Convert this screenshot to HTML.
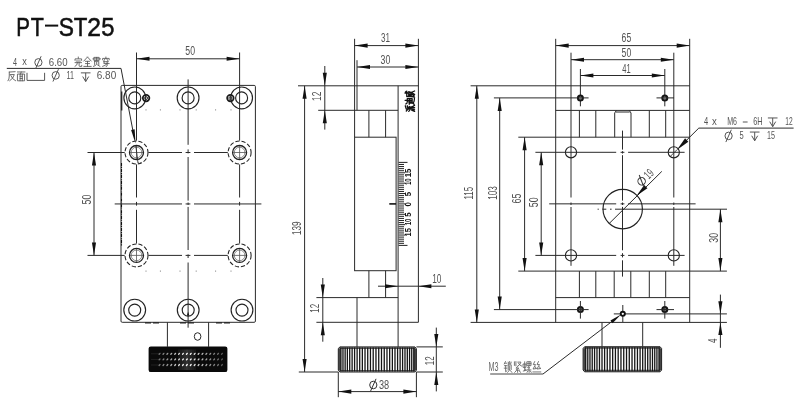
<!DOCTYPE html>
<html lang="en">
<head>
<meta charset="utf-8">
<title>PT-ST25</title>
<style>
html,body{margin:0;padding:0;background:#fff;}
body{width:800px;height:418px;overflow:hidden;font-family:"Liberation Sans",sans-serif;}
svg{display:block;filter:grayscale(1);}
</style>
</head>
<body>
<svg width="800" height="418" viewBox="0 0 800 418" font-family="'Liberation Sans', sans-serif" shape-rendering="geometricPrecision">
<rect x="0" y="0" width="800" height="418" fill="#ffffff"/>
<g font-family="'Liberation Sans', sans-serif">
<text x="16.30" y="35.56" font-size="25.6" fill="#111" font-weight="normal" stroke="#111" stroke-width="0.55" textLength="13.70" lengthAdjust="spacingAndGlyphs">P</text>
<text x="30.80" y="35.56" font-size="25.6" fill="#111" font-weight="normal" stroke="#111" stroke-width="0.55" textLength="13.10" lengthAdjust="spacingAndGlyphs">T</text>
<text x="58.70" y="35.56" font-size="25.6" fill="#111" font-weight="normal" stroke="#111" stroke-width="0.55" textLength="15.20" lengthAdjust="spacingAndGlyphs">S</text>
<text x="73.70" y="35.56" font-size="25.6" fill="#111" font-weight="normal" stroke="#111" stroke-width="0.55" textLength="13.60" lengthAdjust="spacingAndGlyphs">T</text>
<text x="87.30" y="35.56" font-size="25.6" fill="#111" font-weight="normal" stroke="#111" stroke-width="0.55" textLength="13.70" lengthAdjust="spacingAndGlyphs">2</text>
<text x="101.20" y="35.56" font-size="25.6" fill="#111" font-weight="normal" stroke="#111" stroke-width="0.55" textLength="13.20" lengthAdjust="spacingAndGlyphs">5</text>
<line x1="45.00" y1="25.60" x2="58.20" y2="25.60" stroke="#111" stroke-width="2.0"/>
<rect x="121.00" y="85.40" width="134.40" height="236.90" rx="1.2" fill="none" stroke="#2a2a2a" stroke-width="1.0"/>
<line x1="121.70" y1="91.50" x2="121.70" y2="110.50" stroke="#222" stroke-width="1.3"/>
<line x1="121.50" y1="163.00" x2="121.50" y2="246.00" stroke="#111" stroke-width="1.1" stroke-dasharray="3.2 0.9 0.9 0.9"/>
<line x1="136.50" y1="52.50" x2="136.50" y2="140.60" stroke="#2a2a2a" stroke-width="1.0"/>
<line x1="239.60" y1="52.50" x2="239.60" y2="140.60" stroke="#2a2a2a" stroke-width="1.0"/>
<line x1="136.50" y1="58.80" x2="239.60" y2="58.80" stroke="#2a2a2a" stroke-width="1.0"/>
<polygon points="136.50,58.80 149.50,56.75 149.50,60.85" fill="#111"/>
<polygon points="239.60,58.80 226.60,60.85 226.60,56.75" fill="#111"/>
<text x="185.30" y="55.38" font-size="12.1" fill="#525252" font-weight="normal" textLength="9.70" lengthAdjust="spacingAndGlyphs">50</text>
<line x1="188.10" y1="79.40" x2="188.10" y2="144.80" stroke="#2a2a2a" stroke-width="1.0"/>
<line x1="188.10" y1="149.40" x2="188.10" y2="153.40" stroke="#2a2a2a" stroke-width="1.0"/>
<line x1="188.10" y1="157.00" x2="188.10" y2="200.60" stroke="#2a2a2a" stroke-width="1.0"/>
<line x1="188.10" y1="202.50" x2="188.10" y2="205.00" stroke="#2a2a2a" stroke-width="1.0"/>
<line x1="188.10" y1="206.90" x2="188.10" y2="250.00" stroke="#2a2a2a" stroke-width="1.0"/>
<line x1="188.10" y1="254.40" x2="188.10" y2="258.00" stroke="#2a2a2a" stroke-width="1.0"/>
<line x1="188.10" y1="262.50" x2="188.10" y2="327.70" stroke="#2a2a2a" stroke-width="1.0"/>
<line x1="136.50" y1="164.40" x2="136.50" y2="197.50" stroke="#2a2a2a" stroke-width="1.0"/>
<line x1="136.50" y1="201.90" x2="136.50" y2="205.60" stroke="#2a2a2a" stroke-width="1.0"/>
<line x1="136.50" y1="209.80" x2="136.50" y2="243.50" stroke="#2a2a2a" stroke-width="1.0"/>
<line x1="239.60" y1="164.40" x2="239.60" y2="197.50" stroke="#2a2a2a" stroke-width="1.0"/>
<line x1="239.60" y1="201.90" x2="239.60" y2="205.60" stroke="#2a2a2a" stroke-width="1.0"/>
<line x1="239.60" y1="209.80" x2="239.60" y2="243.50" stroke="#2a2a2a" stroke-width="1.0"/>
<line x1="87.50" y1="152.50" x2="124.70" y2="152.50" stroke="#2a2a2a" stroke-width="1.0"/>
<line x1="148.40" y1="152.50" x2="182.00" y2="152.50" stroke="#2a2a2a" stroke-width="1.0"/>
<line x1="185.60" y1="152.50" x2="190.40" y2="152.50" stroke="#2a2a2a" stroke-width="1.0"/>
<line x1="194.00" y1="152.50" x2="227.80" y2="152.50" stroke="#2a2a2a" stroke-width="1.0"/>
<line x1="87.50" y1="255.40" x2="124.70" y2="255.40" stroke="#2a2a2a" stroke-width="1.0"/>
<line x1="148.40" y1="255.40" x2="182.00" y2="255.40" stroke="#2a2a2a" stroke-width="1.0"/>
<line x1="185.60" y1="255.40" x2="190.40" y2="255.40" stroke="#2a2a2a" stroke-width="1.0"/>
<line x1="194.00" y1="255.40" x2="227.80" y2="255.40" stroke="#2a2a2a" stroke-width="1.0"/>
<line x1="114.70" y1="203.95" x2="182.00" y2="203.95" stroke="#2a2a2a" stroke-width="1.0"/>
<line x1="185.60" y1="203.95" x2="190.40" y2="203.95" stroke="#2a2a2a" stroke-width="1.0"/>
<line x1="194.00" y1="203.95" x2="261.40" y2="203.95" stroke="#2a2a2a" stroke-width="1.0"/>
<line x1="94.00" y1="152.50" x2="94.00" y2="255.40" stroke="#2a2a2a" stroke-width="1.0"/>
<polygon points="94.00,152.50 96.05,165.50 91.95,165.50" fill="#111"/>
<polygon points="94.00,255.40 91.95,242.40 96.05,242.40" fill="#111"/>
<text transform="translate(88.20,199.60) rotate(-90)" x="-4.90" y="3.18" font-size="12.1" fill="#525252" font-weight="normal" textLength="9.80" lengthAdjust="spacingAndGlyphs">50</text>
<circle cx="134.80" cy="97.90" r="10.90" fill="none" stroke="#222" stroke-width="1.15"/>
<circle cx="134.80" cy="97.90" r="6.00" fill="none" stroke="#222" stroke-width="1.15"/>
<circle cx="188.10" cy="97.90" r="10.90" fill="none" stroke="#222" stroke-width="1.15"/>
<circle cx="188.10" cy="97.90" r="6.00" fill="none" stroke="#222" stroke-width="1.15"/>
<circle cx="241.60" cy="97.90" r="10.90" fill="none" stroke="#222" stroke-width="1.15"/>
<circle cx="241.60" cy="97.90" r="6.00" fill="none" stroke="#222" stroke-width="1.15"/>
<circle cx="134.70" cy="310.10" r="10.90" fill="none" stroke="#222" stroke-width="1.15"/>
<circle cx="134.70" cy="310.10" r="6.00" fill="none" stroke="#222" stroke-width="1.15"/>
<circle cx="188.20" cy="310.10" r="10.90" fill="none" stroke="#222" stroke-width="1.15"/>
<circle cx="188.20" cy="310.10" r="6.00" fill="none" stroke="#222" stroke-width="1.15"/>
<circle cx="242.00" cy="310.10" r="10.90" fill="none" stroke="#222" stroke-width="1.15"/>
<circle cx="242.00" cy="310.10" r="6.00" fill="none" stroke="#222" stroke-width="1.15"/>
<polygon points="188.1,311.8 186.9,315.6 189.3,315.6" fill="#111"/>
<circle cx="146.10" cy="98.10" r="3.30" fill="none" stroke="#1a1a1a" stroke-width="1.7"/>
<circle cx="146.10" cy="98.10" r="1.50" fill="none" stroke="#333" stroke-width="1.0"/>
<circle cx="230.40" cy="98.10" r="3.30" fill="none" stroke="#1a1a1a" stroke-width="1.7"/>
<circle cx="230.40" cy="98.10" r="1.50" fill="none" stroke="#333" stroke-width="1.0"/>
<circle cx="136.50" cy="152.50" r="11.50" fill="none" stroke="#222" stroke-width="1.05" stroke-dasharray="4.2 2.0"/>
<circle cx="136.50" cy="152.50" r="7.00" fill="none" stroke="#222" stroke-width="1.3"/>
<circle cx="136.50" cy="152.50" r="5.30" fill="none" stroke="#444" stroke-width="0.6"/>
<line x1="130.00" y1="152.50" x2="143.00" y2="152.50" stroke="#555" stroke-width="0.8"/>
<line x1="136.50" y1="146.00" x2="136.50" y2="159.00" stroke="#555" stroke-width="0.8"/>
<circle cx="136.50" cy="255.40" r="11.50" fill="none" stroke="#222" stroke-width="1.05" stroke-dasharray="4.2 2.0"/>
<circle cx="136.50" cy="255.40" r="7.00" fill="none" stroke="#222" stroke-width="1.3"/>
<circle cx="136.50" cy="255.40" r="5.30" fill="none" stroke="#444" stroke-width="0.6"/>
<line x1="130.00" y1="255.40" x2="143.00" y2="255.40" stroke="#555" stroke-width="0.8"/>
<line x1="136.50" y1="248.90" x2="136.50" y2="261.90" stroke="#555" stroke-width="0.8"/>
<circle cx="239.60" cy="152.50" r="11.50" fill="none" stroke="#222" stroke-width="1.05" stroke-dasharray="4.2 2.0"/>
<circle cx="239.60" cy="152.50" r="7.00" fill="none" stroke="#222" stroke-width="1.3"/>
<circle cx="239.60" cy="152.50" r="5.30" fill="none" stroke="#444" stroke-width="0.6"/>
<line x1="233.10" y1="152.50" x2="246.10" y2="152.50" stroke="#555" stroke-width="0.8"/>
<line x1="239.60" y1="146.00" x2="239.60" y2="159.00" stroke="#555" stroke-width="0.8"/>
<circle cx="239.60" cy="255.40" r="11.50" fill="none" stroke="#222" stroke-width="1.05" stroke-dasharray="4.2 2.0"/>
<circle cx="239.60" cy="255.40" r="7.00" fill="none" stroke="#222" stroke-width="1.3"/>
<circle cx="239.60" cy="255.40" r="5.30" fill="none" stroke="#444" stroke-width="0.6"/>
<line x1="233.10" y1="255.40" x2="246.10" y2="255.40" stroke="#555" stroke-width="0.8"/>
<line x1="239.60" y1="248.90" x2="239.60" y2="261.90" stroke="#555" stroke-width="0.8"/>
<rect x="145.50" y="109.40" width="1.00" height="1.00" rx="0" fill="#777" stroke="none" stroke-width="0"/>
<rect x="159.90" y="109.40" width="1.00" height="1.00" rx="0" fill="#777" stroke="none" stroke-width="0"/>
<rect x="179.50" y="109.40" width="1.00" height="1.00" rx="0" fill="#777" stroke="none" stroke-width="0"/>
<rect x="195.70" y="109.40" width="1.00" height="1.00" rx="0" fill="#777" stroke="none" stroke-width="0"/>
<rect x="215.10" y="109.40" width="1.00" height="1.00" rx="0" fill="#777" stroke="none" stroke-width="0"/>
<rect x="230.50" y="109.40" width="1.00" height="1.00" rx="0" fill="#777" stroke="none" stroke-width="0"/>
<rect x="145.50" y="270.60" width="1.00" height="1.00" rx="0" fill="#777" stroke="none" stroke-width="0"/>
<rect x="159.90" y="270.60" width="1.00" height="1.00" rx="0" fill="#777" stroke="none" stroke-width="0"/>
<rect x="179.50" y="270.60" width="1.00" height="1.00" rx="0" fill="#777" stroke="none" stroke-width="0"/>
<rect x="195.70" y="270.60" width="1.00" height="1.00" rx="0" fill="#777" stroke="none" stroke-width="0"/>
<rect x="215.10" y="270.60" width="1.00" height="1.00" rx="0" fill="#777" stroke="none" stroke-width="0"/>
<rect x="230.50" y="270.60" width="1.00" height="1.00" rx="0" fill="#777" stroke="none" stroke-width="0"/>
<path d="M6.8,68.4 L121.0,68.4 L132.9,130.5" fill="none" stroke="#2a2a2a" stroke-width="1.0" />
<polygon points="135.50,143.40 131.13,129.98 134.67,129.31" fill="#111"/>
<path d="M135.8,145.5 L138.0,163.0 Q140.2,164.2 141.2,162.6" fill="none" stroke="#2a2a2a" stroke-width="0.9" />
<line x1="167.40" y1="322.30" x2="167.40" y2="346.80" stroke="#2a2a2a" stroke-width="1.0"/>
<line x1="208.60" y1="322.30" x2="208.60" y2="346.80" stroke="#2a2a2a" stroke-width="1.0"/>
<ellipse cx="197.6" cy="336.5" rx="3.3" ry="3.8" fill="none" stroke="#2a2a2a" stroke-width="1"/>
<line x1="145.00" y1="322.90" x2="160.00" y2="322.90" stroke="#222" stroke-width="1.2" stroke-dasharray="6 2"/>
<line x1="180.00" y1="322.90" x2="196.00" y2="322.90" stroke="#222" stroke-width="1.2" stroke-dasharray="6 2"/>
<line x1="216.00" y1="322.90" x2="231.00" y2="322.90" stroke="#222" stroke-width="1.2" stroke-dasharray="6 2"/>
<rect x="148.60" y="346.60" width="78.80" height="25.50" rx="2.2" fill="#0a0a0a" stroke="none" stroke-width="0"/>
<line x1="179.00" y1="349.50" x2="179.00" y2="370.00" stroke="rgba(255,255,255,0.14)" stroke-width="0.8"/>
<line x1="181.00" y1="349.50" x2="181.00" y2="370.00" stroke="rgba(255,255,255,0.21)" stroke-width="0.8"/>
<line x1="183.00" y1="349.50" x2="183.00" y2="370.00" stroke="rgba(255,255,255,0.28)" stroke-width="0.8"/>
<line x1="185.00" y1="349.50" x2="185.00" y2="370.00" stroke="rgba(255,255,255,0.35)" stroke-width="0.8"/>
<line x1="187.00" y1="349.50" x2="187.00" y2="370.00" stroke="rgba(255,255,255,0.42)" stroke-width="0.8"/>
<line x1="189.00" y1="349.50" x2="189.00" y2="370.00" stroke="rgba(255,255,255,0.35)" stroke-width="0.8"/>
<line x1="191.00" y1="349.50" x2="191.00" y2="370.00" stroke="rgba(255,255,255,0.28)" stroke-width="0.8"/>
<line x1="193.00" y1="349.50" x2="193.00" y2="370.00" stroke="rgba(255,255,255,0.21)" stroke-width="0.8"/>
<line x1="195.00" y1="349.50" x2="195.00" y2="370.00" stroke="rgba(255,255,255,0.14)" stroke-width="0.8"/>
<path d="M159.15,354.25 L159.95,353.35" stroke="rgba(255,255,255,0.44)" stroke-width="1.35" stroke-linecap="round"/>
<path d="M163.05,354.25 L163.85,353.35" stroke="rgba(255,255,255,0.51)" stroke-width="1.35" stroke-linecap="round"/>
<path d="M166.95,354.25 L167.75,353.35" stroke="rgba(255,255,255,0.59)" stroke-width="1.35" stroke-linecap="round"/>
<path d="M170.85,354.25 L171.65,353.35" stroke="rgba(255,255,255,0.67)" stroke-width="1.35" stroke-linecap="round"/>
<path d="M174.75,354.25 L175.55,353.35" stroke="rgba(255,255,255,0.75)" stroke-width="1.35" stroke-linecap="round"/>
<path d="M178.65,354.25 L179.45,353.35" stroke="rgba(255,255,255,0.82)" stroke-width="1.35" stroke-linecap="round"/>
<path d="M182.55,354.25 L183.35,353.35" stroke="rgba(255,255,255,0.90)" stroke-width="1.35" stroke-linecap="round"/>
<path d="M186.45,354.25 L187.25,353.35" stroke="rgba(255,255,255,0.98)" stroke-width="1.35" stroke-linecap="round"/>
<path d="M190.35,354.25 L191.15,353.35" stroke="rgba(255,255,255,0.95)" stroke-width="1.35" stroke-linecap="round"/>
<path d="M194.25,354.25 L195.05,353.35" stroke="rgba(255,255,255,0.87)" stroke-width="1.35" stroke-linecap="round"/>
<path d="M198.15,354.25 L198.95,353.35" stroke="rgba(255,255,255,0.79)" stroke-width="1.35" stroke-linecap="round"/>
<path d="M202.05,354.25 L202.85,353.35" stroke="rgba(255,255,255,0.72)" stroke-width="1.35" stroke-linecap="round"/>
<path d="M205.95,354.25 L206.75,353.35" stroke="rgba(255,255,255,0.64)" stroke-width="1.35" stroke-linecap="round"/>
<path d="M209.85,354.25 L210.65,353.35" stroke="rgba(255,255,255,0.56)" stroke-width="1.35" stroke-linecap="round"/>
<path d="M213.75,354.25 L214.55,353.35" stroke="rgba(255,255,255,0.48)" stroke-width="1.35" stroke-linecap="round"/>
<path d="M217.65,354.25 L218.45,353.35" stroke="rgba(255,255,255,0.41)" stroke-width="1.35" stroke-linecap="round"/>
<path d="M221.55,354.25 L222.35,353.35" stroke="rgba(255,255,255,0.33)" stroke-width="1.35" stroke-linecap="round"/>
<line x1="151.50" y1="353.80" x2="158.50" y2="353.80" stroke="rgba(255,255,255,0.25)" stroke-width="0.8" stroke-dasharray="1 1"/>
<path d="M159.15,359.85 L159.95,358.95" stroke="rgba(255,255,255,0.44)" stroke-width="1.35" stroke-linecap="round"/>
<path d="M163.05,359.85 L163.85,358.95" stroke="rgba(255,255,255,0.51)" stroke-width="1.35" stroke-linecap="round"/>
<path d="M166.95,359.85 L167.75,358.95" stroke="rgba(255,255,255,0.59)" stroke-width="1.35" stroke-linecap="round"/>
<path d="M170.85,359.85 L171.65,358.95" stroke="rgba(255,255,255,0.67)" stroke-width="1.35" stroke-linecap="round"/>
<path d="M174.75,359.85 L175.55,358.95" stroke="rgba(255,255,255,0.75)" stroke-width="1.35" stroke-linecap="round"/>
<path d="M178.65,359.85 L179.45,358.95" stroke="rgba(255,255,255,0.82)" stroke-width="1.35" stroke-linecap="round"/>
<path d="M182.55,359.85 L183.35,358.95" stroke="rgba(255,255,255,0.90)" stroke-width="1.35" stroke-linecap="round"/>
<path d="M186.45,359.85 L187.25,358.95" stroke="rgba(255,255,255,0.98)" stroke-width="1.35" stroke-linecap="round"/>
<path d="M190.35,359.85 L191.15,358.95" stroke="rgba(255,255,255,0.95)" stroke-width="1.35" stroke-linecap="round"/>
<path d="M194.25,359.85 L195.05,358.95" stroke="rgba(255,255,255,0.87)" stroke-width="1.35" stroke-linecap="round"/>
<path d="M198.15,359.85 L198.95,358.95" stroke="rgba(255,255,255,0.79)" stroke-width="1.35" stroke-linecap="round"/>
<path d="M202.05,359.85 L202.85,358.95" stroke="rgba(255,255,255,0.72)" stroke-width="1.35" stroke-linecap="round"/>
<path d="M205.95,359.85 L206.75,358.95" stroke="rgba(255,255,255,0.64)" stroke-width="1.35" stroke-linecap="round"/>
<path d="M209.85,359.85 L210.65,358.95" stroke="rgba(255,255,255,0.56)" stroke-width="1.35" stroke-linecap="round"/>
<path d="M213.75,359.85 L214.55,358.95" stroke="rgba(255,255,255,0.48)" stroke-width="1.35" stroke-linecap="round"/>
<path d="M217.65,359.85 L218.45,358.95" stroke="rgba(255,255,255,0.41)" stroke-width="1.35" stroke-linecap="round"/>
<path d="M221.55,359.85 L222.35,358.95" stroke="rgba(255,255,255,0.33)" stroke-width="1.35" stroke-linecap="round"/>
<line x1="151.50" y1="359.40" x2="158.50" y2="359.40" stroke="rgba(255,255,255,0.25)" stroke-width="0.8" stroke-dasharray="1 1"/>
<path d="M159.15,365.45 L159.95,364.55" stroke="rgba(255,255,255,0.44)" stroke-width="1.35" stroke-linecap="round"/>
<path d="M163.05,365.45 L163.85,364.55" stroke="rgba(255,255,255,0.51)" stroke-width="1.35" stroke-linecap="round"/>
<path d="M166.95,365.45 L167.75,364.55" stroke="rgba(255,255,255,0.59)" stroke-width="1.35" stroke-linecap="round"/>
<path d="M170.85,365.45 L171.65,364.55" stroke="rgba(255,255,255,0.67)" stroke-width="1.35" stroke-linecap="round"/>
<path d="M174.75,365.45 L175.55,364.55" stroke="rgba(255,255,255,0.75)" stroke-width="1.35" stroke-linecap="round"/>
<path d="M178.65,365.45 L179.45,364.55" stroke="rgba(255,255,255,0.82)" stroke-width="1.35" stroke-linecap="round"/>
<path d="M182.55,365.45 L183.35,364.55" stroke="rgba(255,255,255,0.90)" stroke-width="1.35" stroke-linecap="round"/>
<path d="M186.45,365.45 L187.25,364.55" stroke="rgba(255,255,255,0.98)" stroke-width="1.35" stroke-linecap="round"/>
<path d="M190.35,365.45 L191.15,364.55" stroke="rgba(255,255,255,0.95)" stroke-width="1.35" stroke-linecap="round"/>
<path d="M194.25,365.45 L195.05,364.55" stroke="rgba(255,255,255,0.87)" stroke-width="1.35" stroke-linecap="round"/>
<path d="M198.15,365.45 L198.95,364.55" stroke="rgba(255,255,255,0.79)" stroke-width="1.35" stroke-linecap="round"/>
<path d="M202.05,365.45 L202.85,364.55" stroke="rgba(255,255,255,0.72)" stroke-width="1.35" stroke-linecap="round"/>
<path d="M205.95,365.45 L206.75,364.55" stroke="rgba(255,255,255,0.64)" stroke-width="1.35" stroke-linecap="round"/>
<path d="M209.85,365.45 L210.65,364.55" stroke="rgba(255,255,255,0.56)" stroke-width="1.35" stroke-linecap="round"/>
<path d="M213.75,365.45 L214.55,364.55" stroke="rgba(255,255,255,0.48)" stroke-width="1.35" stroke-linecap="round"/>
<path d="M217.65,365.45 L218.45,364.55" stroke="rgba(255,255,255,0.41)" stroke-width="1.35" stroke-linecap="round"/>
<path d="M221.55,365.45 L222.35,364.55" stroke="rgba(255,255,255,0.33)" stroke-width="1.35" stroke-linecap="round"/>
<line x1="151.50" y1="365.00" x2="158.50" y2="365.00" stroke="rgba(255,255,255,0.25)" stroke-width="0.8" stroke-dasharray="1 1"/>
<line x1="354.60" y1="38.80" x2="354.60" y2="137.20" stroke="#2a2a2a" stroke-width="1.0"/>
<line x1="418.40" y1="38.80" x2="418.40" y2="322.30" stroke="#2a2a2a" stroke-width="1.0"/>
<line x1="354.60" y1="45.60" x2="418.40" y2="45.60" stroke="#2a2a2a" stroke-width="1.0"/>
<polygon points="354.60,45.60 367.60,43.55 367.60,47.65" fill="#111"/>
<polygon points="418.40,45.60 405.40,47.65 405.40,43.55" fill="#111"/>
<text x="381.00" y="42.48" font-size="12.1" fill="#525252" font-weight="normal" textLength="9.00" lengthAdjust="spacingAndGlyphs">31</text>
<line x1="357.00" y1="60.20" x2="357.00" y2="110.30" stroke="#2a2a2a" stroke-width="1.0"/>
<line x1="357.00" y1="67.00" x2="418.40" y2="67.00" stroke="#2a2a2a" stroke-width="1.0"/>
<polygon points="357.00,67.00 370.00,64.95 370.00,69.05" fill="#111"/>
<polygon points="418.40,67.00 405.40,69.05 405.40,64.95" fill="#111"/>
<text x="380.60" y="63.58" font-size="12.1" fill="#525252" font-weight="normal" textLength="9.80" lengthAdjust="spacingAndGlyphs">30</text>
<line x1="298.00" y1="85.80" x2="418.40" y2="85.80" stroke="#2a2a2a" stroke-width="1.0"/>
<line x1="318.20" y1="110.30" x2="398.10" y2="110.30" stroke="#2a2a2a" stroke-width="1.0"/>
<line x1="398.10" y1="85.80" x2="398.10" y2="346.90" stroke="#2a2a2a" stroke-width="1.0"/>
<line x1="368.90" y1="110.30" x2="368.90" y2="137.20" stroke="#2a2a2a" stroke-width="1.0"/>
<line x1="368.90" y1="270.70" x2="368.90" y2="297.60" stroke="#2a2a2a" stroke-width="1.0"/>
<line x1="385.60" y1="110.30" x2="385.60" y2="137.20" stroke="#2a2a2a" stroke-width="1.0"/>
<line x1="385.60" y1="270.70" x2="385.60" y2="297.60" stroke="#2a2a2a" stroke-width="1.0"/>
<rect x="354.60" y="137.20" width="41.50" height="133.50" rx="0" fill="none" stroke="#2a2a2a" stroke-width="1.0"/>
<line x1="316.40" y1="297.60" x2="398.10" y2="297.60" stroke="#2a2a2a" stroke-width="1.0"/>
<line x1="316.40" y1="322.30" x2="418.40" y2="322.30" stroke="#2a2a2a" stroke-width="1.0"/>
<line x1="357.00" y1="297.60" x2="357.00" y2="346.90" stroke="#2a2a2a" stroke-width="1.0"/>
<line x1="389.30" y1="203.90" x2="396.10" y2="203.90" stroke="#111" stroke-width="1.6"/>
<line x1="398.60" y1="162.40" x2="407.50" y2="162.40" stroke="#2a2a2a" stroke-width="1.05"/>
<line x1="398.60" y1="164.47" x2="404.00" y2="164.47" stroke="#2a2a2a" stroke-width="1.05"/>
<line x1="398.60" y1="166.55" x2="404.00" y2="166.55" stroke="#2a2a2a" stroke-width="1.05"/>
<line x1="398.60" y1="168.62" x2="404.00" y2="168.62" stroke="#2a2a2a" stroke-width="1.05"/>
<line x1="398.60" y1="170.70" x2="404.00" y2="170.70" stroke="#2a2a2a" stroke-width="1.05"/>
<line x1="398.60" y1="172.78" x2="405.00" y2="172.78" stroke="#2a2a2a" stroke-width="1.05"/>
<line x1="398.60" y1="174.85" x2="404.00" y2="174.85" stroke="#2a2a2a" stroke-width="1.05"/>
<line x1="398.60" y1="176.93" x2="404.00" y2="176.93" stroke="#2a2a2a" stroke-width="1.05"/>
<line x1="398.60" y1="179.00" x2="404.00" y2="179.00" stroke="#2a2a2a" stroke-width="1.05"/>
<line x1="398.60" y1="181.07" x2="404.00" y2="181.07" stroke="#2a2a2a" stroke-width="1.05"/>
<line x1="398.60" y1="183.15" x2="405.00" y2="183.15" stroke="#2a2a2a" stroke-width="1.05"/>
<line x1="398.60" y1="185.22" x2="404.00" y2="185.22" stroke="#2a2a2a" stroke-width="1.05"/>
<line x1="398.60" y1="187.30" x2="404.00" y2="187.30" stroke="#2a2a2a" stroke-width="1.05"/>
<line x1="398.60" y1="189.38" x2="404.00" y2="189.38" stroke="#2a2a2a" stroke-width="1.05"/>
<line x1="398.60" y1="191.45" x2="404.00" y2="191.45" stroke="#2a2a2a" stroke-width="1.05"/>
<line x1="398.60" y1="193.53" x2="405.00" y2="193.53" stroke="#2a2a2a" stroke-width="1.05"/>
<line x1="398.60" y1="195.60" x2="404.00" y2="195.60" stroke="#2a2a2a" stroke-width="1.05"/>
<line x1="398.60" y1="197.68" x2="404.00" y2="197.68" stroke="#2a2a2a" stroke-width="1.05"/>
<line x1="398.60" y1="199.75" x2="404.00" y2="199.75" stroke="#2a2a2a" stroke-width="1.05"/>
<line x1="398.60" y1="201.83" x2="404.00" y2="201.83" stroke="#2a2a2a" stroke-width="1.05"/>
<line x1="398.60" y1="203.90" x2="405.00" y2="203.90" stroke="#2a2a2a" stroke-width="1.05"/>
<line x1="398.60" y1="205.97" x2="404.00" y2="205.97" stroke="#2a2a2a" stroke-width="1.05"/>
<line x1="398.60" y1="208.05" x2="404.00" y2="208.05" stroke="#2a2a2a" stroke-width="1.05"/>
<line x1="398.60" y1="210.12" x2="404.00" y2="210.12" stroke="#2a2a2a" stroke-width="1.05"/>
<line x1="398.60" y1="212.20" x2="404.00" y2="212.20" stroke="#2a2a2a" stroke-width="1.05"/>
<line x1="398.60" y1="214.28" x2="405.00" y2="214.28" stroke="#2a2a2a" stroke-width="1.05"/>
<line x1="398.60" y1="216.35" x2="404.00" y2="216.35" stroke="#2a2a2a" stroke-width="1.05"/>
<line x1="398.60" y1="218.43" x2="404.00" y2="218.43" stroke="#2a2a2a" stroke-width="1.05"/>
<line x1="398.60" y1="220.50" x2="404.00" y2="220.50" stroke="#2a2a2a" stroke-width="1.05"/>
<line x1="398.60" y1="222.58" x2="404.00" y2="222.58" stroke="#2a2a2a" stroke-width="1.05"/>
<line x1="398.60" y1="224.65" x2="405.00" y2="224.65" stroke="#2a2a2a" stroke-width="1.05"/>
<line x1="398.60" y1="226.73" x2="404.00" y2="226.73" stroke="#2a2a2a" stroke-width="1.05"/>
<line x1="398.60" y1="228.80" x2="404.00" y2="228.80" stroke="#2a2a2a" stroke-width="1.05"/>
<line x1="398.60" y1="230.88" x2="404.00" y2="230.88" stroke="#2a2a2a" stroke-width="1.05"/>
<line x1="398.60" y1="232.95" x2="404.00" y2="232.95" stroke="#2a2a2a" stroke-width="1.05"/>
<line x1="398.60" y1="235.03" x2="405.00" y2="235.03" stroke="#2a2a2a" stroke-width="1.05"/>
<line x1="398.60" y1="237.10" x2="404.00" y2="237.10" stroke="#2a2a2a" stroke-width="1.05"/>
<line x1="398.60" y1="239.18" x2="404.00" y2="239.18" stroke="#2a2a2a" stroke-width="1.05"/>
<line x1="398.60" y1="241.25" x2="404.00" y2="241.25" stroke="#2a2a2a" stroke-width="1.05"/>
<line x1="398.60" y1="243.33" x2="404.00" y2="243.33" stroke="#2a2a2a" stroke-width="1.05"/>
<line x1="398.60" y1="245.40" x2="407.50" y2="245.40" stroke="#2a2a2a" stroke-width="1.05"/>
<text transform="translate(409.10,172.90) rotate(-90)" x="-4.40" y="1.86" font-size="8.4" fill="#111" font-weight="bold" textLength="8.80" lengthAdjust="spacingAndGlyphs">15</text>
<text transform="translate(409.10,181.70) rotate(-90)" x="-3.30" y="1.86" font-size="8.4" fill="#111" font-weight="bold" textLength="6.60" lengthAdjust="spacingAndGlyphs">10</text>
<text transform="translate(409.10,194.00) rotate(-90)" x="-2.20" y="1.86" font-size="8.4" fill="#111" font-weight="bold" textLength="4.40" lengthAdjust="spacingAndGlyphs">5</text>
<text transform="translate(409.10,204.30) rotate(-90)" x="-2.20" y="1.86" font-size="8.4" fill="#111" font-weight="bold" textLength="4.40" lengthAdjust="spacingAndGlyphs">0</text>
<text transform="translate(409.10,214.60) rotate(-90)" x="-2.20" y="1.86" font-size="8.4" fill="#111" font-weight="bold" textLength="4.40" lengthAdjust="spacingAndGlyphs">5</text>
<text transform="translate(409.10,221.90) rotate(-90)" x="-3.30" y="1.86" font-size="8.4" fill="#111" font-weight="bold" textLength="6.60" lengthAdjust="spacingAndGlyphs">10</text>
<text transform="translate(409.10,232.20) rotate(-90)" x="-4.20" y="1.86" font-size="8.4" fill="#111" font-weight="bold" textLength="8.40" lengthAdjust="spacingAndGlyphs">15</text>
<line x1="324.80" y1="66.00" x2="324.80" y2="129.60" stroke="#2a2a2a" stroke-width="1.0"/>
<polygon points="324.80,85.80 322.75,72.80 326.85,72.80" fill="#111"/>
<polygon points="324.80,110.30 326.85,123.30 322.75,123.30" fill="#111"/>
<text transform="translate(318.10,96.30) rotate(-90)" x="-4.70" y="3.18" font-size="12.1" fill="#525252" font-weight="normal" textLength="9.40" lengthAdjust="spacingAndGlyphs">12</text>
<line x1="304.60" y1="85.80" x2="304.60" y2="372.00" stroke="#2a2a2a" stroke-width="1.0"/>
<polygon points="304.60,85.80 306.65,98.80 302.55,98.80" fill="#111"/>
<polygon points="304.60,372.00 302.55,359.00 306.65,359.00" fill="#111"/>
<text transform="translate(297.60,228.30) rotate(-90)" x="-6.80" y="3.18" font-size="12.1" fill="#525252" font-weight="normal" textLength="13.60" lengthAdjust="spacingAndGlyphs">139</text>
<line x1="298.80" y1="372.00" x2="338.30" y2="372.00" stroke="#2a2a2a" stroke-width="1.0"/>
<line x1="322.80" y1="278.00" x2="322.80" y2="341.70" stroke="#2a2a2a" stroke-width="1.0"/>
<polygon points="322.80,297.60 320.75,284.60 324.85,284.60" fill="#111"/>
<polygon points="322.80,322.30 324.85,335.30 320.75,335.30" fill="#111"/>
<text transform="translate(316.30,308.30) rotate(-90)" x="-4.50" y="3.18" font-size="12.1" fill="#525252" font-weight="normal" textLength="9.00" lengthAdjust="spacingAndGlyphs">12</text>
<line x1="378.00" y1="286.20" x2="445.80" y2="286.20" stroke="#2a2a2a" stroke-width="1.0"/>
<polygon points="398.10,286.20 385.10,288.25 385.10,284.15" fill="#111"/>
<polygon points="418.40,286.20 431.40,284.15 431.40,288.25" fill="#111"/>
<text x="432.20" y="283.08" font-size="12.1" fill="#525252" font-weight="normal" textLength="9.20" lengthAdjust="spacingAndGlyphs">10</text>
<path d="M339.8,346.9 L414.9,346.9 L416.4,348.7 L416.4,370.2 L414.9,372.0 L339.8,372.0 L338.3,370.2 L338.3,348.7 Z" fill="#fff" stroke="#222" stroke-width="1.0" />
<line x1="340.90" y1="347.50" x2="340.90" y2="371.40" stroke="#151515" stroke-width="1.3"/>
<line x1="342.97" y1="347.50" x2="342.97" y2="371.40" stroke="#151515" stroke-width="1.3"/>
<line x1="345.14" y1="347.50" x2="345.14" y2="371.40" stroke="#151515" stroke-width="1.3"/>
<line x1="347.38" y1="347.50" x2="347.38" y2="371.40" stroke="#151515" stroke-width="1.3"/>
<line x1="349.71" y1="347.50" x2="349.71" y2="371.40" stroke="#151515" stroke-width="1.3"/>
<line x1="352.12" y1="347.50" x2="352.12" y2="371.40" stroke="#151515" stroke-width="1.3"/>
<line x1="354.59" y1="347.50" x2="354.59" y2="371.40" stroke="#151515" stroke-width="1.3"/>
<line x1="357.12" y1="347.50" x2="357.12" y2="371.40" stroke="#151515" stroke-width="1.3"/>
<line x1="359.71" y1="347.50" x2="359.71" y2="371.40" stroke="#151515" stroke-width="1.3"/>
<line x1="362.34" y1="347.50" x2="362.34" y2="371.40" stroke="#151515" stroke-width="1.3"/>
<line x1="365.02" y1="347.50" x2="365.02" y2="371.40" stroke="#151515" stroke-width="1.3"/>
<line x1="367.72" y1="347.50" x2="367.72" y2="371.40" stroke="#151515" stroke-width="1.3"/>
<line x1="370.45" y1="347.50" x2="370.45" y2="371.40" stroke="#151515" stroke-width="1.3"/>
<line x1="373.21" y1="347.50" x2="373.21" y2="371.40" stroke="#151515" stroke-width="1.3"/>
<line x1="375.97" y1="347.50" x2="375.97" y2="371.40" stroke="#151515" stroke-width="1.3"/>
<line x1="378.73" y1="347.50" x2="378.73" y2="371.40" stroke="#151515" stroke-width="1.3"/>
<line x1="381.49" y1="347.50" x2="381.49" y2="371.40" stroke="#151515" stroke-width="1.3"/>
<line x1="384.25" y1="347.50" x2="384.25" y2="371.40" stroke="#151515" stroke-width="1.3"/>
<line x1="386.98" y1="347.50" x2="386.98" y2="371.40" stroke="#151515" stroke-width="1.3"/>
<line x1="389.68" y1="347.50" x2="389.68" y2="371.40" stroke="#151515" stroke-width="1.3"/>
<line x1="392.36" y1="347.50" x2="392.36" y2="371.40" stroke="#151515" stroke-width="1.3"/>
<line x1="394.99" y1="347.50" x2="394.99" y2="371.40" stroke="#151515" stroke-width="1.3"/>
<line x1="397.58" y1="347.50" x2="397.58" y2="371.40" stroke="#151515" stroke-width="1.3"/>
<line x1="400.11" y1="347.50" x2="400.11" y2="371.40" stroke="#151515" stroke-width="1.3"/>
<line x1="402.58" y1="347.50" x2="402.58" y2="371.40" stroke="#151515" stroke-width="1.3"/>
<line x1="404.99" y1="347.50" x2="404.99" y2="371.40" stroke="#151515" stroke-width="1.3"/>
<line x1="407.32" y1="347.50" x2="407.32" y2="371.40" stroke="#151515" stroke-width="1.3"/>
<line x1="409.56" y1="347.50" x2="409.56" y2="371.40" stroke="#151515" stroke-width="1.3"/>
<line x1="411.73" y1="347.50" x2="411.73" y2="371.40" stroke="#151515" stroke-width="1.3"/>
<line x1="413.80" y1="347.50" x2="413.80" y2="371.40" stroke="#151515" stroke-width="1.3"/>
<rect x="338.50" y="348.50" width="2.40" height="21.90" rx="0" fill="rgba(25,25,25,0.8)" stroke="none" stroke-width="0"/>
<rect x="413.80" y="348.50" width="2.40" height="21.90" rx="0" fill="rgba(25,25,25,0.8)" stroke="none" stroke-width="0"/>
<line x1="339.50" y1="348.10" x2="415.20" y2="348.10" stroke="rgba(25,25,25,0.7)" stroke-width="1.6"/>
<line x1="339.50" y1="370.80" x2="415.20" y2="370.80" stroke="rgba(25,25,25,0.7)" stroke-width="1.6"/>
<line x1="416.40" y1="346.90" x2="442.80" y2="346.90" stroke="#2a2a2a" stroke-width="1.0"/>
<line x1="416.40" y1="372.00" x2="442.80" y2="372.00" stroke="#2a2a2a" stroke-width="1.0"/>
<line x1="436.30" y1="327.60" x2="436.30" y2="391.40" stroke="#2a2a2a" stroke-width="1.0"/>
<polygon points="436.30,346.90 434.25,333.90 438.35,333.90" fill="#111"/>
<polygon points="436.30,372.00 438.35,385.00 434.25,385.00" fill="#111"/>
<text transform="translate(430.60,360.70) rotate(-90)" x="-4.50" y="3.18" font-size="12.1" fill="#525252" font-weight="normal" textLength="9.00" lengthAdjust="spacingAndGlyphs">12</text>
<line x1="338.30" y1="372.00" x2="338.30" y2="397.20" stroke="#2a2a2a" stroke-width="1.0"/>
<line x1="416.40" y1="372.00" x2="416.40" y2="397.20" stroke="#2a2a2a" stroke-width="1.0"/>
<line x1="338.30" y1="391.60" x2="416.40" y2="391.60" stroke="#2a2a2a" stroke-width="1.0"/>
<polygon points="338.30,391.60 351.30,389.55 351.30,393.65" fill="#111"/>
<polygon points="416.40,391.60 403.40,393.65 403.40,389.55" fill="#111"/>
<ellipse cx="373.30" cy="385.00" rx="3.61" ry="3.80" fill="none" stroke="#333" stroke-width="1.0"/>
<line x1="370.56" y1="391.16" x2="376.04" y2="378.84" stroke="#333" stroke-width="1.0"/>
<text x="379.00" y="388.88" font-size="12.1" fill="#525252" font-weight="normal" textLength="10.20" lengthAdjust="spacingAndGlyphs">38</text>
<line x1="555.70" y1="38.80" x2="555.70" y2="322.40" stroke="#2a2a2a" stroke-width="1.0"/>
<line x1="689.70" y1="38.80" x2="689.70" y2="322.40" stroke="#2a2a2a" stroke-width="1.0"/>
<line x1="470.60" y1="85.80" x2="689.70" y2="85.80" stroke="#2a2a2a" stroke-width="1.0"/>
<line x1="555.70" y1="110.40" x2="689.70" y2="110.40" stroke="#2a2a2a" stroke-width="1.0"/>
<line x1="518.30" y1="137.20" x2="689.70" y2="137.20" stroke="#2a2a2a" stroke-width="1.0"/>
<line x1="518.30" y1="271.10" x2="726.90" y2="271.10" stroke="#2a2a2a" stroke-width="1.0"/>
<line x1="555.70" y1="297.60" x2="689.70" y2="297.60" stroke="#2a2a2a" stroke-width="1.0"/>
<line x1="470.60" y1="322.40" x2="726.90" y2="322.40" stroke="#2a2a2a" stroke-width="1.0"/>
<line x1="555.70" y1="45.60" x2="689.70" y2="45.60" stroke="#2a2a2a" stroke-width="1.0"/>
<polygon points="555.70,45.60 568.70,43.55 568.70,47.65" fill="#111"/>
<polygon points="689.70,45.60 676.70,47.65 676.70,43.55" fill="#111"/>
<text x="621.60" y="42.48" font-size="12.1" fill="#525252" font-weight="normal" textLength="9.60" lengthAdjust="spacingAndGlyphs">65</text>
<line x1="571.00" y1="52.70" x2="571.00" y2="197.50" stroke="#2a2a2a" stroke-width="1.0"/>
<line x1="673.80" y1="52.70" x2="673.80" y2="197.50" stroke="#2a2a2a" stroke-width="1.0"/>
<line x1="571.00" y1="59.70" x2="673.80" y2="59.70" stroke="#2a2a2a" stroke-width="1.0"/>
<polygon points="571.00,59.70 584.00,57.65 584.00,61.75" fill="#111"/>
<polygon points="673.80,59.70 660.80,61.75 660.80,57.65" fill="#111"/>
<text x="621.60" y="56.68" font-size="12.1" fill="#525252" font-weight="normal" textLength="9.60" lengthAdjust="spacingAndGlyphs">50</text>
<line x1="580.40" y1="69.00" x2="580.40" y2="106.30" stroke="#2a2a2a" stroke-width="1.0"/>
<line x1="664.80" y1="69.00" x2="664.80" y2="106.30" stroke="#2a2a2a" stroke-width="1.0"/>
<line x1="580.40" y1="75.50" x2="664.80" y2="75.50" stroke="#2a2a2a" stroke-width="1.0"/>
<polygon points="580.40,75.50 593.40,73.45 593.40,77.55" fill="#111"/>
<polygon points="664.80,75.50 651.80,77.55 651.80,73.45" fill="#111"/>
<text x="622.20" y="72.68" font-size="12.1" fill="#525252" font-weight="normal" textLength="8.40" lengthAdjust="spacingAndGlyphs">41</text>
<line x1="579.40" y1="110.40" x2="579.40" y2="137.20" stroke="#2a2a2a" stroke-width="1.0"/>
<line x1="579.40" y1="271.10" x2="579.40" y2="297.60" stroke="#2a2a2a" stroke-width="1.0"/>
<line x1="595.80" y1="110.40" x2="595.80" y2="137.20" stroke="#2a2a2a" stroke-width="1.0"/>
<line x1="595.80" y1="271.10" x2="595.80" y2="297.60" stroke="#2a2a2a" stroke-width="1.0"/>
<line x1="649.30" y1="110.40" x2="649.30" y2="137.20" stroke="#2a2a2a" stroke-width="1.0"/>
<line x1="649.30" y1="271.10" x2="649.30" y2="297.60" stroke="#2a2a2a" stroke-width="1.0"/>
<line x1="665.70" y1="110.40" x2="665.70" y2="137.20" stroke="#2a2a2a" stroke-width="1.0"/>
<line x1="665.70" y1="271.10" x2="665.70" y2="297.60" stroke="#2a2a2a" stroke-width="1.0"/>
<line x1="614.20" y1="271.10" x2="614.20" y2="297.60" stroke="#2a2a2a" stroke-width="1.0"/>
<line x1="630.80" y1="271.10" x2="630.80" y2="297.60" stroke="#2a2a2a" stroke-width="1.0"/>
<path d="M614.7,137.2 L614.7,113.0 L616.4,110.4 M631.0,137.2 L631.0,113.0 L629.3,110.4" fill="none" stroke="#2a2a2a" stroke-width="1.0" />
<line x1="616.00" y1="112.00" x2="629.70" y2="112.00" stroke="#2a2a2a" stroke-width="1.0"/>
<circle cx="580.40" cy="97.90" r="2.50" fill="#999" stroke="#141414" stroke-width="2.0"/>
<circle cx="580.40" cy="309.60" r="2.50" fill="#999" stroke="#141414" stroke-width="2.0"/>
<circle cx="664.80" cy="97.90" r="2.50" fill="#999" stroke="#141414" stroke-width="2.0"/>
<circle cx="664.80" cy="309.60" r="2.50" fill="#999" stroke="#141414" stroke-width="2.0"/>
<line x1="493.90" y1="97.90" x2="588.60" y2="97.90" stroke="#2a2a2a" stroke-width="1.0"/>
<line x1="656.50" y1="97.90" x2="674.00" y2="97.90" stroke="#2a2a2a" stroke-width="1.0"/>
<line x1="493.90" y1="309.60" x2="588.60" y2="309.60" stroke="#2a2a2a" stroke-width="1.0"/>
<line x1="656.50" y1="309.60" x2="674.00" y2="309.60" stroke="#2a2a2a" stroke-width="1.0"/>
<line x1="580.40" y1="301.00" x2="580.40" y2="318.60" stroke="#2a2a2a" stroke-width="1.0"/>
<line x1="664.80" y1="301.00" x2="664.80" y2="318.60" stroke="#2a2a2a" stroke-width="1.0"/>
<circle cx="571.00" cy="152.30" r="5.60" fill="none" stroke="#222" stroke-width="1.1"/>
<circle cx="571.00" cy="255.40" r="5.60" fill="none" stroke="#222" stroke-width="1.1"/>
<circle cx="673.80" cy="152.30" r="5.60" fill="none" stroke="#222" stroke-width="1.1"/>
<circle cx="673.80" cy="255.40" r="5.60" fill="none" stroke="#222" stroke-width="1.1"/>
<line x1="571.00" y1="202.50" x2="571.00" y2="205.00" stroke="#2a2a2a" stroke-width="1.0"/>
<line x1="571.00" y1="207.00" x2="571.00" y2="265.80" stroke="#2a2a2a" stroke-width="1.0"/>
<line x1="673.80" y1="202.50" x2="673.80" y2="205.00" stroke="#2a2a2a" stroke-width="1.0"/>
<line x1="673.80" y1="207.00" x2="673.80" y2="265.80" stroke="#2a2a2a" stroke-width="1.0"/>
<line x1="535.40" y1="152.30" x2="616.20" y2="152.30" stroke="#2a2a2a" stroke-width="1.0"/>
<line x1="620.60" y1="152.30" x2="624.40" y2="152.30" stroke="#2a2a2a" stroke-width="1.0"/>
<line x1="628.10" y1="152.30" x2="684.60" y2="152.30" stroke="#2a2a2a" stroke-width="1.0"/>
<line x1="535.40" y1="255.40" x2="616.20" y2="255.40" stroke="#2a2a2a" stroke-width="1.0"/>
<line x1="620.60" y1="255.40" x2="624.40" y2="255.40" stroke="#2a2a2a" stroke-width="1.0"/>
<line x1="628.10" y1="255.40" x2="684.60" y2="255.40" stroke="#2a2a2a" stroke-width="1.0"/>
<line x1="622.50" y1="130.60" x2="622.50" y2="149.60" stroke="#2a2a2a" stroke-width="1.0"/>
<line x1="622.50" y1="151.20" x2="622.50" y2="153.50" stroke="#2a2a2a" stroke-width="1.0"/>
<line x1="622.50" y1="155.20" x2="622.50" y2="200.60" stroke="#2a2a2a" stroke-width="1.0"/>
<line x1="622.50" y1="202.50" x2="622.50" y2="205.00" stroke="#2a2a2a" stroke-width="1.0"/>
<line x1="622.50" y1="206.90" x2="622.50" y2="250.30" stroke="#2a2a2a" stroke-width="1.0"/>
<line x1="622.50" y1="253.20" x2="622.50" y2="257.40" stroke="#2a2a2a" stroke-width="1.0"/>
<line x1="622.50" y1="260.30" x2="622.50" y2="276.60" stroke="#2a2a2a" stroke-width="1.0"/>
<line x1="549.20" y1="203.85" x2="616.20" y2="203.85" stroke="#2a2a2a" stroke-width="1.0"/>
<line x1="620.60" y1="203.85" x2="624.40" y2="203.85" stroke="#2a2a2a" stroke-width="1.0"/>
<line x1="628.10" y1="203.85" x2="695.60" y2="203.85" stroke="#2a2a2a" stroke-width="1.0"/>
<line x1="597.60" y1="209.20" x2="598.80" y2="209.20" stroke="#2a2a2a" stroke-width="1.0"/>
<line x1="602.50" y1="209.20" x2="606.30" y2="209.20" stroke="#2a2a2a" stroke-width="1.0"/>
<line x1="610.00" y1="209.20" x2="611.60" y2="209.20" stroke="#2a2a2a" stroke-width="1.0"/>
<line x1="615.00" y1="209.20" x2="727.00" y2="209.20" stroke="#2a2a2a" stroke-width="1.0"/>
<circle cx="622.70" cy="209.10" r="19.70" fill="none" stroke="#222" stroke-width="1.15"/>
<line x1="609.00" y1="223.70" x2="661.80" y2="171.40" stroke="#2a2a2a" stroke-width="1.0"/>
<polygon points="636.60,195.80 644.17,184.98 647.42,188.23" fill="#111"/>
<g transform="translate(646.3,176.6) rotate(-45)">
<ellipse cx="-6.60" cy="0.00" rx="3.61" ry="3.80" fill="none" stroke="#333" stroke-width="1.0"/>
<line x1="-9.34" y1="6.16" x2="-3.86" y2="-6.16" stroke="#333" stroke-width="1.0"/>
<text x="-0.40" y="3.98" font-size="12.1" fill="#525252" font-weight="normal" textLength="8.20" lengthAdjust="spacingAndGlyphs">19</text>
</g>
<line x1="476.80" y1="85.80" x2="476.80" y2="322.40" stroke="#2a2a2a" stroke-width="1.0"/>
<polygon points="476.80,85.80 478.85,98.80 474.75,98.80" fill="#111"/>
<polygon points="476.80,322.40 474.75,309.40 478.85,309.40" fill="#111"/>
<text transform="translate(470.00,193.20) rotate(-90)" x="-6.30" y="3.18" font-size="12.1" fill="#525252" font-weight="normal" textLength="12.60" lengthAdjust="spacingAndGlyphs">115</text>
<line x1="499.70" y1="97.90" x2="499.70" y2="309.60" stroke="#2a2a2a" stroke-width="1.0"/>
<polygon points="499.70,97.90 501.75,110.90 497.65,110.90" fill="#111"/>
<polygon points="499.70,309.60 497.65,296.60 501.75,296.60" fill="#111"/>
<text transform="translate(494.00,192.90) rotate(-90)" x="-6.80" y="3.18" font-size="12.1" fill="#525252" font-weight="normal" textLength="13.60" lengthAdjust="spacingAndGlyphs">103</text>
<line x1="524.60" y1="137.20" x2="524.60" y2="271.10" stroke="#2a2a2a" stroke-width="1.0"/>
<polygon points="524.60,137.20 526.65,150.20 522.55,150.20" fill="#111"/>
<polygon points="524.60,271.10 522.55,258.10 526.65,258.10" fill="#111"/>
<text transform="translate(517.60,198.50) rotate(-90)" x="-4.90" y="3.18" font-size="12.1" fill="#525252" font-weight="normal" textLength="9.80" lengthAdjust="spacingAndGlyphs">65</text>
<line x1="541.20" y1="152.30" x2="541.20" y2="255.40" stroke="#2a2a2a" stroke-width="1.0"/>
<polygon points="541.20,152.30 543.25,165.30 539.15,165.30" fill="#111"/>
<polygon points="541.20,255.40 539.15,242.40 543.25,242.40" fill="#111"/>
<text transform="translate(534.40,202.30) rotate(-90)" x="-4.90" y="3.18" font-size="12.1" fill="#525252" font-weight="normal" textLength="9.80" lengthAdjust="spacingAndGlyphs">50</text>
<line x1="720.40" y1="209.20" x2="720.40" y2="271.10" stroke="#2a2a2a" stroke-width="1.0"/>
<polygon points="720.40,209.20 722.45,222.20 718.35,222.20" fill="#111"/>
<polygon points="720.40,271.10 718.35,258.10 722.45,258.10" fill="#111"/>
<text transform="translate(714.50,237.80) rotate(-90)" x="-4.90" y="3.18" font-size="12.1" fill="#525252" font-weight="normal" textLength="9.80" lengthAdjust="spacingAndGlyphs">30</text>
<line x1="613.80" y1="313.90" x2="726.90" y2="313.90" stroke="#2a2a2a" stroke-width="1.0"/>
<line x1="720.40" y1="294.60" x2="720.40" y2="347.80" stroke="#2a2a2a" stroke-width="1.0"/>
<polygon points="720.40,313.90 718.35,301.30 722.45,301.30" fill="#111"/>
<polygon points="720.40,322.40 722.45,335.00 718.35,335.00" fill="#111"/>
<text transform="translate(714.00,340.80) rotate(-90)" x="-2.30" y="3.18" font-size="12.1" fill="#525252" font-weight="normal" textLength="4.60" lengthAdjust="spacingAndGlyphs">4</text>
<line x1="622.80" y1="305.00" x2="622.80" y2="322.00" stroke="#2a2a2a" stroke-width="1.0"/>
<circle cx="622.80" cy="313.80" r="2.10" fill="#fff" stroke="#111" stroke-width="1.9"/>
<line x1="543.00" y1="374.00" x2="614.50" y2="319.50" stroke="#2a2a2a" stroke-width="1.0"/>
<polygon points="621.00,314.60 612.51,323.25 610.44,320.56" fill="#111"/>
<line x1="490.20" y1="374.00" x2="543.00" y2="374.00" stroke="#444" stroke-width="1.0"/>
<path d="M793.6,128.1 L698.8,128.1 L686.0,140.8" fill="none" stroke="#2a2a2a" stroke-width="1.0" />
<polygon points="676.80,149.90 685.07,138.37 688.33,141.63" fill="#111"/>
<line x1="677.00" y1="149.70" x2="670.30" y2="156.40" stroke="#333" stroke-width="0.9"/>
<line x1="602.00" y1="322.40" x2="602.00" y2="346.80" stroke="#2a2a2a" stroke-width="1.0"/>
<line x1="642.70" y1="322.40" x2="642.70" y2="346.80" stroke="#2a2a2a" stroke-width="1.0"/>
<path d="M584.6,346.7 L660.1,346.7 L661.6,348.5 L661.6,370.0 L660.1,371.8 L584.6,371.8 L583.1,370.0 L583.1,348.5 Z" fill="#fff" stroke="#222" stroke-width="1.0" />
<line x1="585.70" y1="347.30" x2="585.70" y2="371.20" stroke="#151515" stroke-width="1.3"/>
<line x1="587.78" y1="347.30" x2="587.78" y2="371.20" stroke="#151515" stroke-width="1.3"/>
<line x1="589.96" y1="347.30" x2="589.96" y2="371.20" stroke="#151515" stroke-width="1.3"/>
<line x1="592.22" y1="347.30" x2="592.22" y2="371.20" stroke="#151515" stroke-width="1.3"/>
<line x1="594.56" y1="347.30" x2="594.56" y2="371.20" stroke="#151515" stroke-width="1.3"/>
<line x1="596.98" y1="347.30" x2="596.98" y2="371.20" stroke="#151515" stroke-width="1.3"/>
<line x1="599.47" y1="347.30" x2="599.47" y2="371.20" stroke="#151515" stroke-width="1.3"/>
<line x1="602.01" y1="347.30" x2="602.01" y2="371.20" stroke="#151515" stroke-width="1.3"/>
<line x1="604.61" y1="347.30" x2="604.61" y2="371.20" stroke="#151515" stroke-width="1.3"/>
<line x1="607.26" y1="347.30" x2="607.26" y2="371.20" stroke="#151515" stroke-width="1.3"/>
<line x1="609.95" y1="347.30" x2="609.95" y2="371.20" stroke="#151515" stroke-width="1.3"/>
<line x1="612.67" y1="347.30" x2="612.67" y2="371.20" stroke="#151515" stroke-width="1.3"/>
<line x1="615.42" y1="347.30" x2="615.42" y2="371.20" stroke="#151515" stroke-width="1.3"/>
<line x1="618.18" y1="347.30" x2="618.18" y2="371.20" stroke="#151515" stroke-width="1.3"/>
<line x1="620.96" y1="347.30" x2="620.96" y2="371.20" stroke="#151515" stroke-width="1.3"/>
<line x1="623.74" y1="347.30" x2="623.74" y2="371.20" stroke="#151515" stroke-width="1.3"/>
<line x1="626.52" y1="347.30" x2="626.52" y2="371.20" stroke="#151515" stroke-width="1.3"/>
<line x1="629.28" y1="347.30" x2="629.28" y2="371.20" stroke="#151515" stroke-width="1.3"/>
<line x1="632.03" y1="347.30" x2="632.03" y2="371.20" stroke="#151515" stroke-width="1.3"/>
<line x1="634.75" y1="347.30" x2="634.75" y2="371.20" stroke="#151515" stroke-width="1.3"/>
<line x1="637.44" y1="347.30" x2="637.44" y2="371.20" stroke="#151515" stroke-width="1.3"/>
<line x1="640.09" y1="347.30" x2="640.09" y2="371.20" stroke="#151515" stroke-width="1.3"/>
<line x1="642.69" y1="347.30" x2="642.69" y2="371.20" stroke="#151515" stroke-width="1.3"/>
<line x1="645.23" y1="347.30" x2="645.23" y2="371.20" stroke="#151515" stroke-width="1.3"/>
<line x1="647.72" y1="347.30" x2="647.72" y2="371.20" stroke="#151515" stroke-width="1.3"/>
<line x1="650.14" y1="347.30" x2="650.14" y2="371.20" stroke="#151515" stroke-width="1.3"/>
<line x1="652.48" y1="347.30" x2="652.48" y2="371.20" stroke="#151515" stroke-width="1.3"/>
<line x1="654.74" y1="347.30" x2="654.74" y2="371.20" stroke="#151515" stroke-width="1.3"/>
<line x1="656.92" y1="347.30" x2="656.92" y2="371.20" stroke="#151515" stroke-width="1.3"/>
<line x1="659.00" y1="347.30" x2="659.00" y2="371.20" stroke="#151515" stroke-width="1.3"/>
<rect x="583.30" y="348.30" width="2.40" height="21.90" rx="0" fill="rgba(25,25,25,0.8)" stroke="none" stroke-width="0"/>
<rect x="659.00" y="348.30" width="2.40" height="21.90" rx="0" fill="rgba(25,25,25,0.8)" stroke="none" stroke-width="0"/>
<line x1="584.30" y1="347.90" x2="660.40" y2="347.90" stroke="rgba(25,25,25,0.7)" stroke-width="1.6"/>
<line x1="584.30" y1="370.60" x2="660.40" y2="370.60" stroke="rgba(25,25,25,0.7)" stroke-width="1.6"/>
<text x="13.00" y="66.07" font-size="11.8" fill="#555" font-weight="normal" textLength="4.00" lengthAdjust="spacingAndGlyphs">4</text>
<text x="22.30" y="65.32" font-size="10.8" fill="#555" font-weight="normal" textLength="4.60" lengthAdjust="spacingAndGlyphs">x</text>
<ellipse cx="38.40" cy="62.40" rx="3.61" ry="3.80" fill="none" stroke="#555" stroke-width="1.0"/>
<line x1="35.66" y1="68.56" x2="41.14" y2="56.24" stroke="#555" stroke-width="1.0"/>
<text x="48.80" y="66.07" font-size="11.8" fill="#555" font-weight="normal" textLength="18.80" lengthAdjust="spacingAndGlyphs">6.60</text>
<ellipse cx="55.70" cy="75.40" rx="3.61" ry="3.80" fill="none" stroke="#555" stroke-width="1.0"/>
<line x1="52.96" y1="81.56" x2="58.44" y2="69.24" stroke="#555" stroke-width="1.0"/>
<text x="66.60" y="78.87" font-size="11.8" fill="#555" font-weight="normal" textLength="7.40" lengthAdjust="spacingAndGlyphs">11</text>
<line x1="80.87" y1="72.86" x2="90.53" y2="72.86" stroke="#555" stroke-width="1.0"/>
<line x1="85.70" y1="72.86" x2="85.70" y2="81.37" stroke="#555" stroke-width="1.0"/>
<path d="M82.71,76.54 L85.70,81.60 L88.69,76.54" fill="none" stroke="#555" stroke-width="1.0" />
<text x="96.80" y="78.87" font-size="11.8" fill="#555" font-weight="normal" textLength="19.40" lengthAdjust="spacingAndGlyphs">6.80</text>
<path d="M27.0,72.8 L27.0,80.4 L44.6,80.4 L44.6,72.8" fill="none" stroke="#555" stroke-width="1.0" />
<text x="704.00" y="125.27" font-size="11.8" fill="#555" font-weight="normal" textLength="4.20" lengthAdjust="spacingAndGlyphs">4</text>
<text x="712.00" y="124.72" font-size="10.8" fill="#555" font-weight="normal" textLength="4.80" lengthAdjust="spacingAndGlyphs">x</text>
<text x="727.20" y="125.27" font-size="11.8" fill="#555" font-weight="normal" textLength="9.80" lengthAdjust="spacingAndGlyphs">M6</text>
<line x1="742.80" y1="122.00" x2="747.60" y2="122.00" stroke="#555" stroke-width="1.0"/>
<text x="753.20" y="125.27" font-size="11.8" fill="#555" font-weight="normal" textLength="9.40" lengthAdjust="spacingAndGlyphs">6H</text>
<line x1="767.87" y1="117.96" x2="777.53" y2="117.96" stroke="#555" stroke-width="1.0"/>
<line x1="772.70" y1="117.96" x2="772.70" y2="126.47" stroke="#555" stroke-width="1.0"/>
<path d="M769.71,121.64 L772.70,126.70 L775.69,121.64" fill="none" stroke="#555" stroke-width="1.0" />
<text x="785.20" y="125.27" font-size="11.8" fill="#555" font-weight="normal" textLength="7.40" lengthAdjust="spacingAndGlyphs">12</text>
<ellipse cx="728.60" cy="135.90" rx="3.61" ry="3.80" fill="none" stroke="#555" stroke-width="1.0"/>
<line x1="725.86" y1="142.06" x2="731.34" y2="129.74" stroke="#555" stroke-width="1.0"/>
<text x="739.60" y="139.47" font-size="11.8" fill="#555" font-weight="normal" textLength="4.20" lengthAdjust="spacingAndGlyphs">5</text>
<line x1="749.87" y1="132.06" x2="759.53" y2="132.06" stroke="#555" stroke-width="1.0"/>
<line x1="754.70" y1="132.06" x2="754.70" y2="140.57" stroke="#555" stroke-width="1.0"/>
<path d="M751.71,135.74 L754.70,140.80 L757.69,135.74" fill="none" stroke="#555" stroke-width="1.0" />
<text x="767.00" y="139.47" font-size="11.8" fill="#555" font-weight="normal" textLength="8.00" lengthAdjust="spacingAndGlyphs">15</text>
<text x="488.60" y="370.55" font-size="12.0" fill="#666" font-weight="normal" textLength="10.00" lengthAdjust="spacingAndGlyphs">M3</text>
<path transform="translate(74.20,57.00) scale(0.820,0.940)" d="M5,0 L5,1.5 M1,3.6 L1,2 L9,2 L9,3.6 M2.5,4.3 L7.5,4.3 M1,6 L9,6 M4,6 Q4,9 1,10 M6,6 L6,9.3 Q6,10 7,10 L9.2,10 L9.2,8.8" fill="none" stroke="#555" stroke-width="0.85" vector-effect="non-scaling-stroke" stroke-linecap="round" stroke-linejoin="round"/>
<path transform="translate(83.40,57.00) scale(0.820,0.940)" d="M5,0 L0.5,4.3 M5,0 L9.5,4.3 M2.5,4.6 L7.5,4.6 M2.5,7 L7.5,7 M5,4.6 L5,10 M0.5,10 L9.5,10" fill="none" stroke="#555" stroke-width="0.85" vector-effect="non-scaling-stroke" stroke-linecap="round" stroke-linejoin="round"/>
<path transform="translate(92.60,57.00) scale(0.820,0.940)" d="M2,0.4 L8,0.4 L8,3.6 L2,3.6 Z M0.3,2 L9.7,2 M5,0.4 L5,3.6 M2.5,4.6 L7.5,4.6 L7.5,8 M2.5,4.6 L2.5,8 M5,5.5 L5,7.5 Q4,9.5 1,10 M6,8.4 L9,10" fill="none" stroke="#555" stroke-width="0.85" vector-effect="non-scaling-stroke" stroke-linecap="round" stroke-linejoin="round"/>
<path transform="translate(101.80,57.00) scale(0.820,0.940)" d="M5,0 L5,1.2 M1,3 L1,1.5 L9,1.5 L9,3 M4,2 L2.5,4 M6,2 L7.5,4 M2,5 L8,5 M3,5 L2.5,7 L9,7 M6.5,5 L6.5,9.5 Q6.5,10 5.3,10 M6.5,7 Q4,9.5 1,10" fill="none" stroke="#555" stroke-width="0.85" vector-effect="non-scaling-stroke" stroke-linecap="round" stroke-linejoin="round"/>
<path transform="translate(7.60,71.20) scale(0.840,0.960)" d="M2,0.9 L9,0.5 M2,0.9 L2,5 Q2,8.5 0.5,10 M3,3.5 L8,3.5 Q7,7.5 2.5,10 M3.8,4.5 Q5.5,8.5 9.5,10" fill="none" stroke="#555" stroke-width="0.85" vector-effect="non-scaling-stroke" stroke-linecap="round" stroke-linejoin="round"/>
<path transform="translate(17.00,71.20) scale(0.840,0.960)" d="M0.5,0.8 L9.5,0.8 M5,0.8 L4.2,3 M1,3 L9,3 L9,10 L1,10 Z M3.7,3 L3.7,10 M6.3,3 L6.3,10 M3.7,5.3 L6.3,5.3 M3.7,7.6 L6.3,7.6" fill="none" stroke="#555" stroke-width="0.85" vector-effect="non-scaling-stroke" stroke-linecap="round" stroke-linejoin="round"/>
<path transform="translate(409.70,108.40) rotate(-90) translate(-3.30,-4.90) scale(0.660,0.980)" d="M1,1.5 L2.5,2.5 M0.5,4 L2,5 M0.5,10 L2.5,7 M4,1.5 L9,0.5 M4,1.5 L4,6 Q4,9 3,10 M6,3 L6,10 M6,3 L9,2.5 M6,6 L8,4.5 M6.5,5 Q7.5,8.5 9.8,10" fill="none" stroke="#111" stroke-width="1.3" vector-effect="non-scaling-stroke" stroke-linecap="round" stroke-linejoin="round"/>
<path transform="translate(409.70,101.30) rotate(-90) translate(-3.30,-4.90) scale(0.660,0.980)" d="M1,1 L2.2,2.2 M0.5,4.5 L2.2,4.5 L2.2,8 Q1.5,9 0.5,9.5 M2.2,8 Q3.5,9.8 9.8,9.8 M4,2.5 L9,2.5 L9,7.5 L4,7.5 Z M4,5 L9,5 M6.5,0.3 L6.5,7.5" fill="none" stroke="#111" stroke-width="1.3" vector-effect="non-scaling-stroke" stroke-linecap="round" stroke-linejoin="round"/>
<path transform="translate(409.70,94.20) rotate(-90) translate(-3.30,-4.90) scale(0.660,0.980)" d="M1.5,2 L9.5,2 M1.5,2 L1.5,6 Q1.5,9 0.5,10 M6.5,0.3 Q7,7 9.8,10 M9,4 Q7,8.5 4.5,10 M8,0.5 L9,1.3 M2.5,4 L6,4 M3.5,4.8 Q3,7 5.5,9 M5.3,4.8 Q5,8 2.5,9.5 M2.2,6.5 L6.2,6.5" fill="none" stroke="#111" stroke-width="1.3" vector-effect="non-scaling-stroke" stroke-linecap="round" stroke-linejoin="round"/>
<path transform="translate(503.80,361.20) scale(0.840,1.120)" d="M2,0.3 L0.5,2.5 M1.5,1.8 L3.8,1.8 M0.8,4 L3.8,4 M0.5,6.2 L3.8,6.2 M2.2,4 L2.2,9.5 L3.8,8.5 M7,0.2 L7,2.2 M5.3,0.8 L5.8,2.2 M8.8,0.8 L8.2,2.2 M5.3,3.2 L8.8,3.2 L8.8,7.5 M5.3,3.2 L5.3,7.5 M7,4.2 L7,7 Q6.5,9 4.5,10 M7.8,8.3 L9.6,10" fill="none" stroke="#606060" stroke-width="0.85" vector-effect="non-scaling-stroke" stroke-linecap="round" stroke-linejoin="round"/>
<path transform="translate(513.40,361.20) scale(0.840,1.120)" d="M1.2,0.5 L1.2,3.8 M3,0.3 L3,4.2 M5.2,0.8 L9,0.8 Q8.5,3 5,4.5 M6,1.8 Q7.5,3.8 9.8,4.4 M5.5,4.6 L3,6.2 L6.5,6.2 L3,8 L7.5,8 M5,8 L5,10 M3,8.8 L1.5,10 M7,8.8 L8.8,10" fill="none" stroke="#606060" stroke-width="0.85" vector-effect="non-scaling-stroke" stroke-linecap="round" stroke-linejoin="round"/>
<path transform="translate(523.00,361.20) scale(0.840,1.120)" d="M0.5,2.5 L3.5,2.5 L3.5,5.5 L0.5,5.5 Z M2,0.5 L2,8.5 M0.3,8.8 L3.8,8 M3,7 L3.8,8.3 M5,0.5 L9.5,0.5 L9.5,4 L5,4 Z M5,2.2 L9.5,2.2 M7.2,0.5 L7.2,4 M7.5,4.2 L5.5,5.8 L8.2,5.8 L5.2,7.8 L9.5,7.8 M7.3,7.8 L7.3,10 M5.8,8.8 L4.8,10 M8.8,8.8 L9.8,10" fill="none" stroke="#606060" stroke-width="0.85" vector-effect="non-scaling-stroke" stroke-linecap="round" stroke-linejoin="round"/>
<path transform="translate(532.60,361.20) scale(0.840,1.120)" d="M2.5,0.3 L0.8,3 L3.5,3 L0.5,7 L4.2,6.6 M7,0.3 L5.3,3 L8.2,3 L5.2,7 L9.2,6.6 M3.3,5 L4.2,6.6 M8.3,5 L9.2,6.6 M0.3,9.6 L9.8,9.6" fill="none" stroke="#606060" stroke-width="0.85" vector-effect="non-scaling-stroke" stroke-linecap="round" stroke-linejoin="round"/>
</g>
</svg>
</body>
</html>
